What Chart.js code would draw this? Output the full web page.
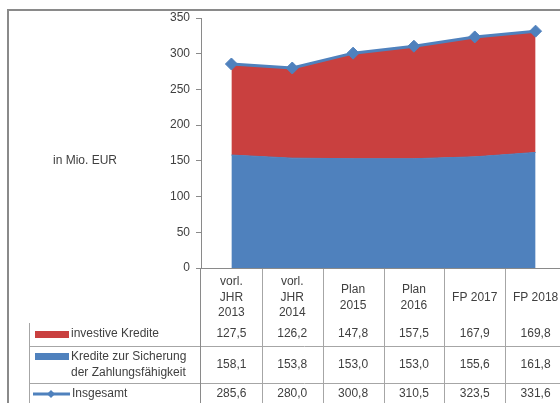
<!DOCTYPE html>
<html>
<head>
<meta charset="utf-8">
<script src="https://cdn.jsdelivr.net/npm/chart.js@4.4.1/dist/chart.umd.min.js"></script>
<style>
  body { margin: 0; overflow: hidden; background: #fff; }
  canvas { display: block; }
</style>
</head>
<body>
<canvas id="chart" width="580" height="403"></canvas>
<script>
// categories (table header lines)
const categories = [
  ['vorl.', 'JHR', '2013'],
  ['vorl.', 'JHR', '2014'],
  ['Plan', '2015'],
  ['Plan', '2016'],
  ['FP 2017'],
  ['FP 2018']
];
const investiveKredite = [127.5, 126.2, 147.8, 157.5, 167.9, 169.8];
const krediteSicherung = [158.1, 153.8, 153.0, 153.0, 155.6, 161.8];
const insgesamt = [285.6, 280.0, 300.8, 310.5, 323.5, 331.6];
const yMax = 350;
const yStep = 50;
const unitLabel = 'in Mio. EUR';

const BLUE = '#4F81BD';
const RED = '#C9403F';
const TEXT = '#404040';
const FONT = '12px "Liberation Sans", Arial, sans-serif';

const fmt = v => v.toFixed(1).replace('.', ',');

// draws the outer frame, unit label and the data table under the plot
const tablePlugin = {
  id: 'dataTable',
  beforeDraw(chart) {
    const ctx = chart.ctx;
    ctx.save();
    ctx.strokeStyle = '#8a8a8a';
    ctx.lineWidth = 2;
    ctx.strokeRect(8, 10, chart.width + 10, chart.height + 10);
    ctx.restore();
  },
  afterDraw(chart) {
    const ctx = chart.ctx;
    const area = chart.chartArea;
    const xs = chart.scales.x;
    const colW = (area.right - area.left) / categories.length;
    const top = area.bottom;
    const bottom = chart.height;

    ctx.save();
    ctx.font = FONT;
    ctx.fillStyle = TEXT;
    ctx.textBaseline = 'middle';

    // unit label
    ctx.textAlign = 'center';
    ctx.fillText(unitLabel, 85, 161);

    // grid lines of the table
    ctx.strokeStyle = '#a6a6a6';
    ctx.lineWidth = 1;
    ctx.beginPath();
    for (let i = 1; i <= categories.length; i++) {
      const bx = Math.round(area.left + i * colW) + 0.5;
      ctx.moveTo(bx, top);
      ctx.lineTo(bx, bottom);
    }
    ctx.moveTo(29.5, 323);
    ctx.lineTo(29.5, bottom);
    ctx.moveTo(29, 346.5);
    ctx.lineTo(chart.width, 346.5);
    ctx.moveTo(29, 383.5);
    ctx.lineTo(chart.width, 383.5);
    ctx.stroke();
    ctx.strokeStyle = '#8a8a8a';
    ctx.beginPath();
    ctx.moveTo(area.left - 0.5, top);
    ctx.lineTo(area.left - 0.5, bottom);
    ctx.moveTo(area.left, top + 0.5);
    ctx.lineTo(chart.width, top + 0.5);
    ctx.stroke();

    // header + values
    const rowY = [334, 365, 394];
    categories.forEach((lines, i) => {
      const cx = xs.getPixelForValue(i);
      const startY = 297.5 - (lines.length - 1) * 15.5 / 2;
      lines.forEach((t, k) => ctx.fillText(t, cx, startY + k * 15.5));
      ctx.fillText(fmt(investiveKredite[i]), cx, rowY[0]);
      ctx.fillText(fmt(krediteSicherung[i]), cx, rowY[1]);
      ctx.fillText(fmt(insgesamt[i]), cx, rowY[2]);
    });

    // legend keys + series names
    ctx.fillStyle = RED;
    ctx.fillRect(35, 331, 34, 7);
    ctx.fillStyle = BLUE;
    ctx.fillRect(35, 353, 34, 7);
    ctx.strokeStyle = BLUE;
    ctx.lineWidth = 3;
    ctx.beginPath();
    ctx.moveTo(33, 394);
    ctx.lineTo(70, 394);
    ctx.stroke();
    ctx.beginPath();
    ctx.moveTo(51, 390); ctx.lineTo(55, 394); ctx.lineTo(51, 398); ctx.lineTo(47, 394);
    ctx.closePath();
    ctx.fill();

    ctx.fillStyle = TEXT;
    ctx.textAlign = 'left';
    ctx.fillText(chart.data.datasets[1].label, 71, 334);
    ctx.fillText('Kredite zur Sicherung', 71, 357);
    ctx.fillText('der Zahlungsfähigkeit', 71, 373);
    ctx.fillText(chart.data.datasets[2].label, 72, 394);
    ctx.restore();
  }
};

new Chart(document.getElementById('chart'), {
  type: 'line',
  data: {
    labels: categories.map(c => c.join(' ')),
    datasets: [
      {
        label: 'Kredite zur Sicherung der Zahlungsfähigkeit',
        data: krediteSicherung,
        stack: 'credits',
        order: 1,
        fill: 'origin',
        backgroundColor: BLUE,
        borderColor: BLUE,
        borderWidth: 1,
        pointRadius: 0,
        tension: 0
      },
      {
        label: 'investive Kredite',
        data: investiveKredite,
        stack: 'credits',
        order: 1,
        fill: '-1',
        backgroundColor: RED,
        borderColor: RED,
        borderWidth: 1,
        pointRadius: 0,
        tension: 0
      },
      {
        label: 'Insgesamt',
        data: insgesamt,
        stack: 'total',
        order: 0,
        fill: false,
        borderColor: BLUE,
        backgroundColor: BLUE,
        borderWidth: 3,
        pointStyle: 'rectRot',
        pointRadius: 6,
        pointBorderWidth: 1,
        tension: 0
      }
    ]
  },
  options: {
    responsive: false,
    animation: false,
    layout: { padding: { left: 0, top: 18, right: 14, bottom: 135 } },
    plugins: {
      legend: { display: false },
      tooltip: { enabled: false }
    },
    scales: {
      x: {
        display: false,
        offset: true
      },
      y: {
        stacked: true,
        min: 0,
        max: yMax,
        afterFit(scale) { scale.width = 201; },
        ticks: {
          stepSize: yStep,
          padding: 6,
          color: TEXT,
          font: { family: '"Liberation Sans", Arial, sans-serif', size: 12 }
        },
        grid: {
          drawOnChartArea: false,
          drawTicks: true,
          tickLength: 5,
          color: '#8a8a8a'
        },
        border: { display: true, color: '#8a8a8a' }
      }
    }
  },
  plugins: [tablePlugin]
});
</script>
</body>
</html>
